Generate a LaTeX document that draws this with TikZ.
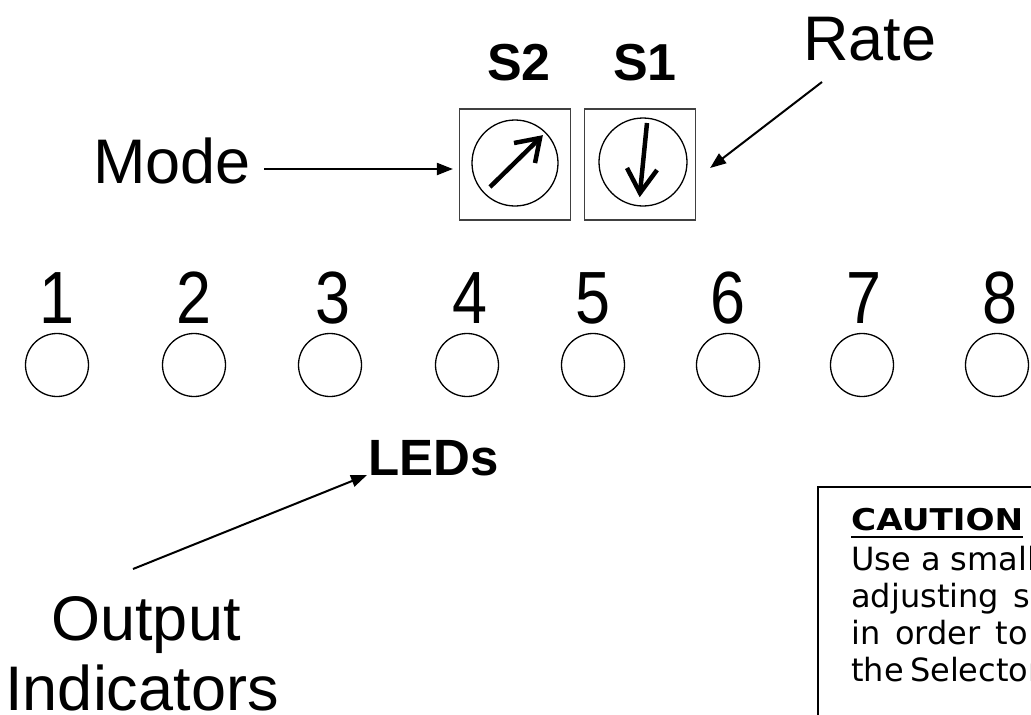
\documentclass[tikz,border=0pt]{standalone}
\usepackage{fontspec}
\setmainfont{Liberation Sans}
\newfontfamily\dejavu{DejaVu Sans}
\usetikzlibrary{arrows.meta,calc}
\begin{document}
\begin{tikzpicture}[x=1pt,y=-1pt,
  biglbl/.style={inner sep=0pt, anchor=base west, font=\fontsize{63}{72}\selectfont},
  boldlbl/.style={inner sep=0pt, anchor=base, font=\fontsize{52}{60}\selectfont\bfseries},
  digit/.style={inner sep=0pt, anchor=base, font=\fontsize{74}{74}\selectfont},
  led/.style={draw, circle, minimum size=63pt, inner sep=0pt, line width=1.3pt},
  swbox/.style={draw=black!75, rectangle, minimum size=111pt, inner sep=0pt, line width=1.2pt},
  dial/.style={draw, circle, inner sep=0pt, line width=1.3pt},
  needle/.style={line width=4.5pt, line join=miter, line cap=butt},
  arr/.style={line width=2pt, -{Triangle[length=16pt,width=12pt]}},
  cautxt/.style={inner sep=0pt, anchor=base west, font=\fontsize{32}{37}\selectfont\dejavu},
]
\useasboundingbox (0,0) rectangle (1031,715);
\clip (0,0) rectangle (1031,715);
\fill[white] (0,0) rectangle (1031,715);

% switch labels
\node[boldlbl] (s2lbl) at (519,80) {S2};
\node[boldlbl] (s1lbl) at (645,80) {S1};

% switch boxes and dials
\node[swbox] (s2box) at (515,164.5) {};
\node[swbox] (s1box) at (640,164.5) {};
\node[dial, minimum size=86pt] (s2dial) at (515,163) {};
\node[dial, minimum size=88pt] (s1dial) at (643,162) {};
\draw[needle] (490,187) -- (540,138);
\draw[needle] (514,143) -- (540,138) -- (535,163);
\draw[needle] (647,123) -- (640,193);
\draw[needle] (627,168) -- (640,193) -- (657,170);

% Mode and Rate
\node[biglbl] (mode) at (93,183) {Mode};
\node[biglbl] (rate) at (803,60) {Rate};
\coordinate (modefrom) at (264,169);
\draw[arr, shorten >=6pt] (modefrom) -- (modefrom -| s2box.west);
\coordinate (ratefrom) at (822,82);
\draw[arr] (ratefrom) -- ([shift={(14,3.5)}]s1box.east);

% digits and LEDs
\foreach \i/\cx in {1/57,2/194,3/333,4/470,5/593,6/728,7/864,8/1000}{
  \node[digit] (d\i) at (\cx,323) {\scalebox{0.85}[1]{\i}};
}
\foreach \i/\cx in {1/57,2/194,3/330,4/467,5/593,6/728,7/862,8/997}{
  \node[led] (led\i) at (\cx,365) {};
}

% LEDs label and output indicators
\node[inner sep=0pt, anchor=base west, font=\fontsize{51}{60}\selectfont\bfseries] (leds) at (368,475) {LEDs};
\node[inner sep=0pt, anchor=base, font=\fontsize{63}{72}\selectfont] (outp) at (146,640) {Output};
\node[inner sep=0pt, anchor=base, font=\fontsize{63}{72}\selectfont] (indic) at (142,710) {Indicators};
\coordinate (ledsfrom) at (133,569);
\draw[arr] (ledsfrom) -- ([xshift=-1pt]leds.base west);

% caution box
\draw[line width=1.2pt] (818,730) -- (818,487) -- (1040,487);
\node[cautxt, font=\fontsize{30}{37}\selectfont\dejavu\bfseries] (caut) at (851,530) {\scalebox{1.14}[1]{CAUTION}};
\draw[line width=2pt] ([yshift=-7pt]caut.base west) -- ([yshift=-7pt]caut.base east);
\node[cautxt] (c1) at (851,570) {Use a small};
\node[cautxt] (c2) at (851,607) {adjusting\hspace{0.15em} se};
\node[cautxt] (c3) at (851,644) {in\hspace{0.15em} order\hspace{0.15em} to};
\node[cautxt] (c4) at (851,681) {the\hspace{-0.12em} Selector};
\end{tikzpicture}
\end{document}
